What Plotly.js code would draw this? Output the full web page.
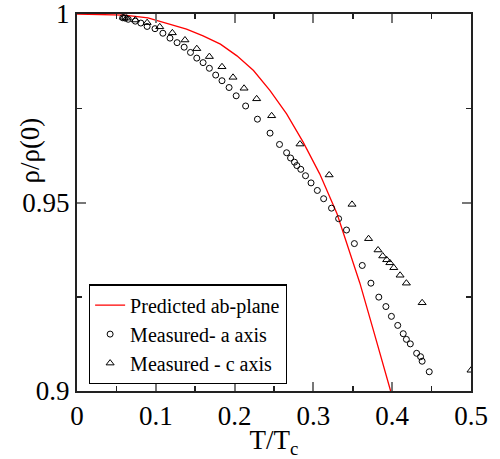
<!DOCTYPE html>
<html>
<head>
<meta charset="utf-8">
<script src="https://cdn.plot.ly/plotly-3.0.1.min.js"></script>
<style>html,body{margin:0;padding:0;background:#fff;}#chart{width:500px;height:459px;}</style>
</head>
<body>
<div id="chart"></div>
<script>
// Predicted ab-plane (red line)
var predT   = [0, 0.03, 0.06, 0.09, 0.118, 0.139, 0.160, 0.182, 0.203, 0.224, 0.245, 0.266, 0.287, 0.308, 0.330, 0.342, 0.359, 0.376, 0.398];
var predRho = [1.0, 0.99995, 0.9997, 0.9990, 0.9974, 0.9960, 0.9942, 0.9920, 0.9889, 0.9850, 0.9797, 0.9735, 0.9660, 0.9576, 0.9470, 0.9395, 0.9286, 0.9162, 0.9000];

// Measured - a axis (open circles)
var aT   = [0.058, 0.061, 0.065, 0.074, 0.081, 0.089, 0.099, 0.109, 0.118, 0.127, 0.136, 0.144, 0.152, 0.160, 0.168, 0.176, 0.184, 0.193, 0.202, 0.214, 0.229, 0.245, 0.257, 0.266, 0.271, 0.276, 0.279, 0.284, 0.290, 0.297, 0.305, 0.313, 0.323, 0.332, 0.342, 0.352, 0.362, 0.373, 0.383, 0.392, 0.399, 0.407, 0.414, 0.418, 0.423, 0.431, 0.436, 0.438, 0.447];
var aRho = [0.9990, 0.9989, 0.9986, 0.9981, 0.9976, 0.9967, 0.9961, 0.9949, 0.9936, 0.9924, 0.9912, 0.9898, 0.9883, 0.9871, 0.9856, 0.9838, 0.9823, 0.9805, 0.9783, 0.9756, 0.9721, 0.9684, 0.9654, 0.9632, 0.9618, 0.9607, 0.9598, 0.9588, 0.9571, 0.9552, 0.9532, 0.9510, 0.9485, 0.9457, 0.9427, 0.9391, 0.9333, 0.9286, 0.9249, 0.9224, 0.9198, 0.9174, 0.9152, 0.9137, 0.9125, 0.9100, 0.9091, 0.9079, 0.9051];

// Measured - c axis (open triangles)
var cT   = [0.059, 0.063, 0.074, 0.089, 0.105, 0.121, 0.137, 0.152, 0.168, 0.184, 0.198, 0.212, 0.228, 0.247, 0.283, 0.320, 0.349, 0.370, 0.382, 0.388, 0.393, 0.397, 0.402, 0.410, 0.418, 0.438, 0.500];
var cRho = [0.9991, 0.9989, 0.9984, 0.9977, 0.9966, 0.9950, 0.9931, 0.9908, 0.9887, 0.9860, 0.9832, 0.9803, 0.9775, 0.9730, 0.9655, 0.9573, 0.9495, 0.9404, 0.9374, 0.9358, 0.9348, 0.9340, 0.9327, 0.9307, 0.9286, 0.9234, 0.9055];

var seriesNames = ['Predicted ab-plane', 'Measured- a axis', 'Measured - c axis'];
var xTickVals = [0, 0.1, 0.2, 0.3, 0.4, 0.5];
var xTickText = ['0', '0.1', '0.2', '0.3', '0.4', '0.5'];
var yTickVals = [0.9, 0.95, 1];
var yTickText = ['0.9', '0.95', '1'];

var serif = 'Liberation Serif, Times New Roman, Times, DejaVu Serif, serif';

var traces = [
  {x: predT, y: predRho, name: seriesNames[0], mode: 'lines', type: 'scatter',
   line: {color: '#ff0000', width: 1.3}},
  {x: aT, y: aRho, name: seriesNames[1], mode: 'markers', type: 'scatter',
   marker: {symbol: 'circle-open', size: 6, color: '#000', line: {width: 1, color: '#000'}}},
  {x: cT, y: cRho, name: seriesNames[2], mode: 'markers', type: 'scatter',
   marker: {symbol: 'triangle-up-open', size: 7, color: '#000', line: {width: 1, color: '#000'}}}
];

var axisCommon = {
  showline: true, linecolor: '#222', linewidth: 2, mirror: 'allticks',
  ticks: 'inside', ticklen: 9, tickwidth: 2, tickcolor: '#777',
  showgrid: false, zeroline: false, ticklabeloverflow: 'allow',
  tickfont: {family: serif, size: 27, color: '#000'}
};

var layout = {
  width: 500, height: 459,
  margin: {l: 77, r: 29, t: 14, b: 68},
  paper_bgcolor: '#fff', plot_bgcolor: '#fff',
  font: {family: serif},
  showlegend: true,
  legend: {x: 0.03, y: 0.283, xanchor: 'left', yanchor: 'top',
    bgcolor: '#fff', bordercolor: '#000', borderwidth: 1.3,
    font: {family: serif, size: 20, color: '#000'},
    tracegroupgap: 0, itemwidth: 30},
  xaxis: Object.assign({}, axisCommon, {
    range: [0, 0.5], tickmode: 'array', tickvals: xTickVals, ticktext: xTickText,
    minor: {dtick: 0.05, ticks: 'inside', ticklen: 5, tickwidth: 1.5, tickcolor: '#222', showgrid: false},
    title: {text: 'T/T<sub>c</sub>', font: {family: serif, size: 27, color: '#000'}, standoff: 2}
  }),
  yaxis: Object.assign({}, axisCommon, {
    range: [0.9, 1], tickmode: 'array', tickvals: yTickVals, ticktext: yTickText,
    minor: {dtick: 0.025, ticks: 'inside', ticklen: 5, tickwidth: 1.5, tickcolor: '#222', showgrid: false}
  }),
  annotations: [{
    text: 'ρ/ρ(0)', xref: 'paper', yref: 'y', x: -0.12, y: 0.9637,
    xanchor: 'center', yanchor: 'middle', textangle: -90, showarrow: false,
    font: {family: serif, size: 27, color: '#000'}
  }]
};

Plotly.newPlot('chart', traces, layout, {displayModeBar: false, staticPlot: true});
</script>
</body>
</html>
